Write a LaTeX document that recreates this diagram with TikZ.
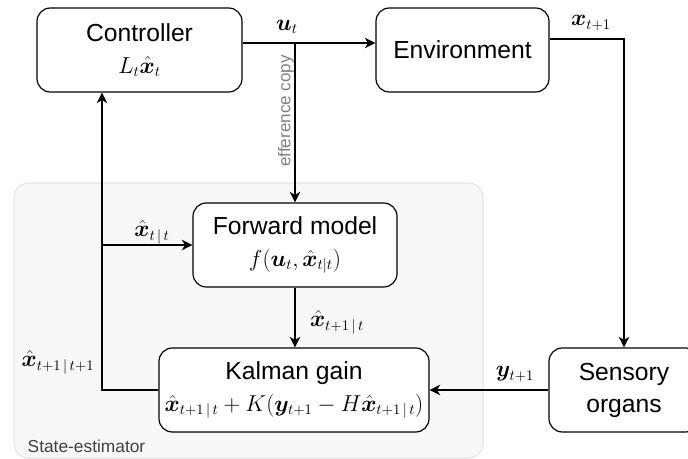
\documentclass[tikz,border=0pt]{standalone}
\usepackage{amsmath,amssymb}
\usepackage{bm}
\usepackage{fontspec}
\setmainfont{Liberation Sans}
\usetikzlibrary{arrows.meta}

\definecolor{estfill}{HTML}{F8F8F8}
\definecolor{estline}{HTML}{D2D2D2}
\definecolor{notegray}{HTML}{808080}
\newcommand{\mathline}[1]{{\fontsize{16}{24}\selectfont$#1$}}
\newcommand{\xhat}{\hat{\bm{x}}}

\begin{document}
\begin{tikzpicture}[x=0.75pt,y=-0.75pt,
    block/.style={draw, rounded corners=10pt, line width=0.9pt, fill=white,
        align=center, inner sep=0pt, minimum height=63pt,
        font=\fontsize{18.5}{24}\selectfont},
    lbl/.style={inner sep=0pt, font=\fontsize{16}{18}\selectfont},
    wire/.style={line width=0.9pt, -{Stealth[length=8pt,width=8pt,inset=2.5pt]}}]
\useasboundingbox (0,0) rectangle (688,459);

% State-estimator background
\node[draw=estline, fill=estfill, rounded corners=11pt, minimum width=351.75pt,
    minimum height=206.25pt] (est) at (248.5,320.5) {};
\node[anchor=west, text=black!75, font=\fontsize{13}{15}\selectfont] (estname) at (23,446) {State-estimator};

% Blocks
\node[block, minimum width=153.75pt] (ctrl) at (139.5,50) {Controller\\ \mathline{L_t\xhat_t}};
\node[block, minimum width=129.75pt] (env) at (462.5,50) {Environment};
\node[block, minimum width=153pt] (fwd) at (295,245) {Forward model\\ \mathline{f(\bm{u}_t,\xhat_{t|t})}};
\node[block, minimum width=202.5pt] (kal) at (294,390) {Kalman gain\\ \mathline{\xhat_{t+1\,|\,t}+K(\bm{y}_{t+1}-H\xhat_{t+1\,|\,t})}};
\node[block, minimum width=112.5pt] (sens) at (624,390) {Sensory\\ organs};

% Corners of the wires
\coordinate (split) at (295,43);
\coordinate (xcorner) at (624,39);
\coordinate (back) at (102,0);

% Wires
\draw[wire] (ctrl.east |- split) -- (env.west |- split);
\draw[wire] (split) -- (split |- fwd.north);
\draw[wire] (env.east |- xcorner) -- (xcorner) -- (sens.north);
\draw[wire] (sens.west) -- (kal.east);
\draw[wire] (fwd.south) -- (fwd.south |- kal.north);
\draw[wire] (kal.west) -| (back |- ctrl.south);
\draw[wire] (back |- fwd.west) -- (fwd.west);

% Labels
\node[rotate=90, text=notegray, font=\fontsize{12.8}{15}\selectfont] (effnote) at (286,111) {efference copy};
\node[lbl] (ulabel) at (287,27) {$\bm{u}_t$};
\node[lbl] (xlabel) at (591,23) {$\bm{x}_{t+1}$};
\node[lbl] (ylabel) at (515,374) {$\bm{y}_{t+1}$};
\node[lbl] (predlabel) at (337,322) {$\xhat_{t+1\,|\,t}$};
\node[lbl] (fwdinlabel) at (152,232) {$\xhat_{t\,|\,t}$};
\node[lbl] (postlabel) at (58,362) {$\xhat_{t+1\,|\,t+1}$};
\end{tikzpicture}
\end{document}
